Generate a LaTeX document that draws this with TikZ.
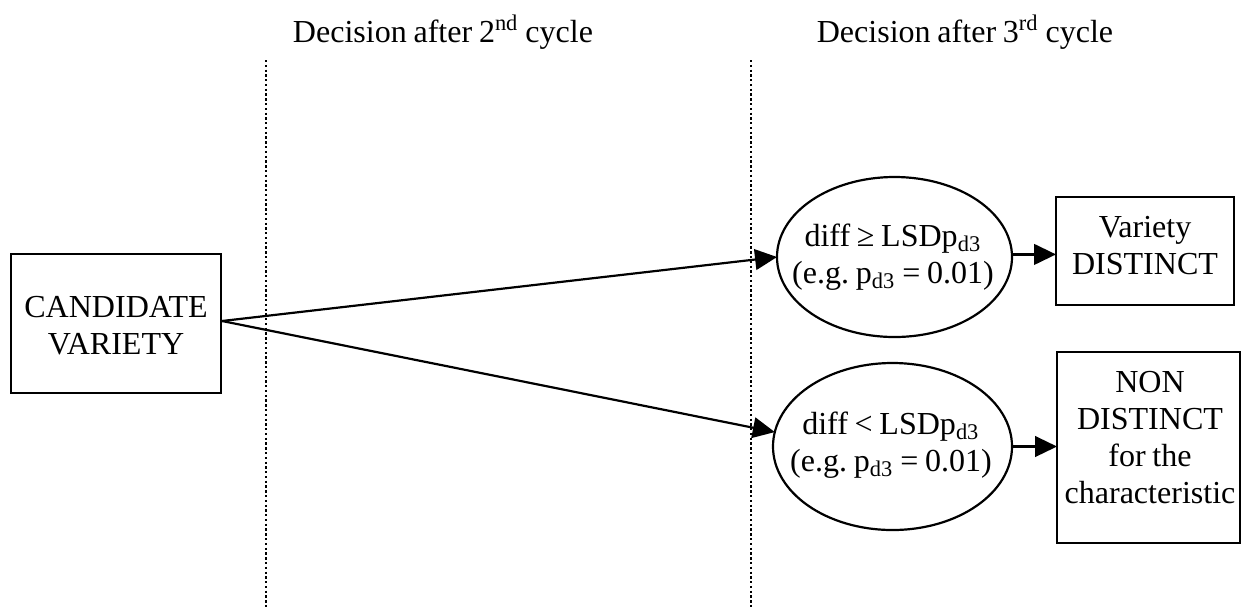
\documentclass[tikz,border=0pt]{standalone}
\usepackage{fontspec}
\setmainfont{Liberation Serif}
\usetikzlibrary{arrows.meta,shapes.geometric}
\frenchspacing
% one drawing unit = one pixel of the layout grid
\def\pxu{0.387pt}
% label font with slightly narrower word spaces
\newcommand\labelfont{\fontsize{12.4}{14.4}\selectfont
  \spaceskip 0.21em plus 0.1em minus 0.05em\relax}
\tikzset{
  lbl/.style={font=\labelfont, align=center, inner sep=0pt},
  framebox/.style={draw, line width=1.1pt, inner sep=0pt, outer sep=0pt},
  oval/.style={draw, ellipse, line width=0.85pt, inner sep=0pt, outer sep=0pt},
  flow/.style={line width=0.85pt, -{Triangle[length=8.5pt,width=8pt]}},
  divider/.style={line width=0.9pt, dash pattern=on 0.9pt off 0.95pt},
}
\begin{document}
\begin{tikzpicture}[x=0.387pt,y=-0.387pt]
\useasboundingbox (0,0) rectangle (1242,607);

% column headings
\node[lbl, anchor=base] (head2) at (443,42) {Decision after 2\textsuperscript{nd} cycle};
\node[lbl, anchor=base] (head3) at (965,42) {Decision after 3\textsuperscript{rd} cycle};

% dotted separators
\draw[divider] (266,60) -- (266,607);
\draw[divider] (751,60) -- (751,607);

% starting box
\node[framebox, minimum width=210*\pxu, minimum height=139*\pxu] (cand) at (116,323.5) {};
\node[lbl] (candtxt) at (116,326) {CANDIDATE\\VARIETY};
\coordinate (src) at (222,321);

% decision ellipses
\node[oval, minimum width=235*\pxu, minimum height=160*\pxu] (e1) at (894.5,257) {};
\node[lbl] (e1txt) at (893,257.5)
  {diff ≥ LSDp\textsubscript{d3}\\(e.g. p\textsubscript{d3} = 0.01)};
\node[oval, minimum width=239*\pxu, minimum height=167*\pxu] (e2) at (892.5,446.5) {};
\node[lbl] (e2txt) at (891,445)
  {diff < LSDp\textsubscript{d3}\\(e.g. p\textsubscript{d3} = 0.01)};

% outcome boxes
\node[framebox, minimum width=178*\pxu, minimum height=108*\pxu] (b1) at (1145,251) {};
\node[lbl] (b1txt) at (1145,245.5) {Variety\\DISTINCT};
\node[framebox, minimum width=183*\pxu, minimum height=191*\pxu] (b2) at (1148.5,447.5) {};
\node[lbl] (b2txt) at (1150,437.5) {NON\\DISTINCT\\for the\\characteristic};

% connectors
\draw[flow] (src) -- (e1.west);
\draw[flow] (src) -- (e2.173);
\draw[flow] ([yshift=1pt]e1.east) -- ([yshift=1pt]e1.east -| b1.west);
\draw[flow] (e2.east) -- (e2.east -| b2.west);
\end{tikzpicture}
\end{document}
